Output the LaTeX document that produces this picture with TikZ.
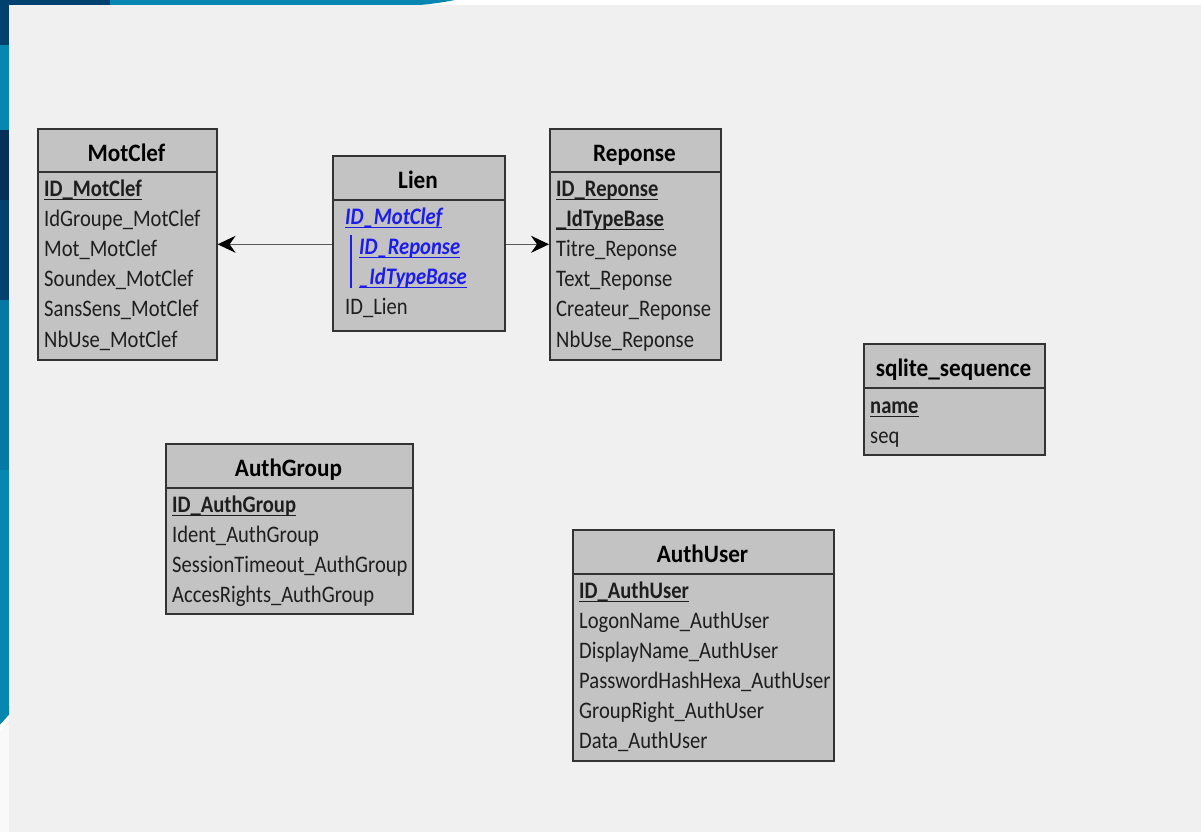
\documentclass[tikz,border=0pt]{standalone}
\usepackage{fontspec}
\setmainfont{Carlito}
\usepackage{graphicx}
\usetikzlibrary{arrows.meta}
\definecolor{bg}{HTML}{F0F0F0}
\definecolor{boxfill}{HTML}{C3C3C3}
\definecolor{boxline}{HTML}{333333}
\definecolor{txt}{HTML}{1E1E1E}
\definecolor{fkblue}{RGB}{28,28,235}
\definecolor{navy}{HTML}{00416F}
\definecolor{teal}{HTML}{0886B2}
\definecolor{darknavy}{HTML}{06305A}
\tikzset{
  hdr/.style={draw=boxline, fill=boxfill, line width=1.6pt, inner sep=0pt},
  bdy/.style={draw=boxline, fill=boxfill, line width=1.6pt, inner sep=0pt},
  ttl/.style={inner sep=0pt, anchor=base, font=\fontsize{23.2}{26}\selectfont\bfseries, text=black},
  row/.style={inner sep=0pt, anchor=base west, font=\fontsize{20.6}{24}\selectfont, text=txt},
  conn/.style={draw=black!65, line width=1.1pt, -{Stealth[length=18pt,width=17pt,inset=6pt,black]}},
}
\newsavebox\ulbox
\newcommand\myul[1]{\begingroup\sbox\ulbox{#1}\leavevmode\rlap{\raisebox{-3.6pt}{\rule{\wd\ulbox}{1.3pt}}}\usebox\ulbox\endgroup}
\newcommand\sy[1]{\scalebox{1}[1.15]{#1}}
\newcommand\st[1]{\scalebox{1}[1.08]{#1}}
\newcommand\pk[1]{\sy{\bfseries\myul{#1}}}
\newcommand\fk[1]{\sy{\color{fkblue}\bfseries\itshape\myul{#1}}}
% #1 name, #2 left, #3 top, #4 right, #5 divider, #6 bottom, #7 title, #8 title baseline
\newcommand\ertbl[8]{%
  \node[hdr, minimum width={#4-#2}, minimum height={#5-#3}, anchor=north west] (#1h) at (#2,#3) {};
  \node[bdy, minimum width={#4-#2}, minimum height={#6-#5}, anchor=north west] (#1b) at (#2,#5) {};
  \node[ttl] (#1t) at ({(#2+#4)/2},#8) {\st{#7}};
}
\begin{document}
\begin{tikzpicture}[x=1pt,y=-1pt]
\useasboundingbox (0,0) rectangle (1201,832);
% background
\fill[bg] (0,0) rectangle (1201,832);
\fill[white!60!bg] (0,725) rectangle (9,832);
\fill[white] (430,0) rectangle (1201,5);
\fill[teal] (0,0) rectangle (400,5);
\fill[teal] (400,0) -- (455,0) .. controls (440,3) and (430,4) .. (420,5) -- (400,5) -- cycle;
\fill[navy] (0,0) rectangle (110,5);
\fill[navy] (0,0) rectangle (9,45);
\fill[teal] (0,45) rectangle (9,130);
\fill[darknavy] (0,130) rectangle (9,200);
\fill[navy] (0,200) rectangle (9,300);
\fill[teal!80!navy] (0,300) rectangle (9,470);
\fill[teal] (0,470) rectangle (9,715);
\fill[teal] (0,715) -- (9,705) -- (9,715) -- (0,725) -- cycle;
\fill[white] (0,725) -- (9,715) -- (9,720) -- (0,732) -- cycle;

% tables
\ertbl{mc}{37}{128}{216}{171}{359}{MotClef}{161}
\ertbl{li}{332}{155}{504}{199}{330}{Lien}{188}
\ertbl{re}{549}{128}{720}{171}{359}{Reponse}{161}
\ertbl{sq}{863}{343}{1044}{387}{454}{sqlite\_sequence}{376}
\ertbl{ag}{165}{443}{412}{487}{613}{AuthGroup}{476}
\ertbl{au}{572}{529}{833}{573}{760}{AuthUser}{562}

% MotClef rows
\node[row] (mc1) at (44,196) {\pk{ID\_MotClef}};
\node[row] (mc2) at (44,226) {\sy{IdGroupe\_MotClef}};
\node[row] (mc3) at (44,256) {\sy{Mot\_MotClef}};
\node[row] (mc4) at (44,286) {\sy{Soundex\_MotClef}};
\node[row] (mc5) at (44,316) {\sy{SansSens\_MotClef}};
\node[row] (mc6) at (44,347) {\sy{NbUse\_MotClef}};

% Lien rows
\node[row] (li1) at (345,224) {\fk{ID\_MotClef}};
\node[row] (li2) at (359,254) {\fk{ID\_Reponse}};
\node[row] (li3) at (359,284) {\fk{\_IdTypeBase}};
\node[row] (li4) at (345,314) {\sy{ID\_Lien}};
\draw[fkblue, line width=1.6pt] (li2.north west) ++(-8,-3) coordinate (bar1) -- (bar1 |- li3.south west);

% Reponse rows
\node[row] (re1) at (556,196) {\pk{ID\_Reponse}};
\node[row] (re2) at (556,226) {\pk{\_IdTypeBase}};
\node[row] (re3) at (556,256) {\sy{Titre\_Reponse}};
\node[row] (re4) at (556,286) {\sy{Text\_Reponse}};
\node[row] (re5) at (556,316) {\sy{Createur\_Reponse}};
\node[row] (re6) at (556,347) {\sy{NbUse\_Reponse}};

% sqlite_sequence rows
\node[row] (sq1) at (870,413) {\pk{name}};
\node[row] (sq2) at (870,443) {\sy{seq}};

% AuthGroup rows
\node[row] (ag1) at (172,512) {\pk{ID\_AuthGroup}};
\node[row] (ag2) at (172,542) {\sy{Ident\_AuthGroup}};
\node[row] (ag3) at (172,572) {\sy{SessionTimeout\_AuthGroup}};
\node[row] (ag4) at (172,602) {\sy{AccesRights\_AuthGroup}};

% AuthUser rows
\node[row] (au1) at (579,598) {\pk{ID\_AuthUser}};
\node[row] (au2) at (579,628) {\sy{LogonName\_AuthUser}};
\node[row] (au3) at (579,658) {\sy{DisplayName\_AuthUser}};
\node[row] (au4) at (579,688) {\sy{PasswordHashHexa\_AuthUser}};
\node[row] (au5) at (579,718) {\sy{GroupRight\_AuthUser}};
\node[row] (au6) at (579,748) {\sy{Data\_AuthUser}};

% connectors
\draw[conn] ([yshift=21pt]lib.west) -- ([yshift=21pt]lib.west -| mcb.east);
\draw[conn] ([yshift=21pt]lib.east) -- ([yshift=21pt]lib.east -| reb.west);
\end{tikzpicture}
\end{document}
